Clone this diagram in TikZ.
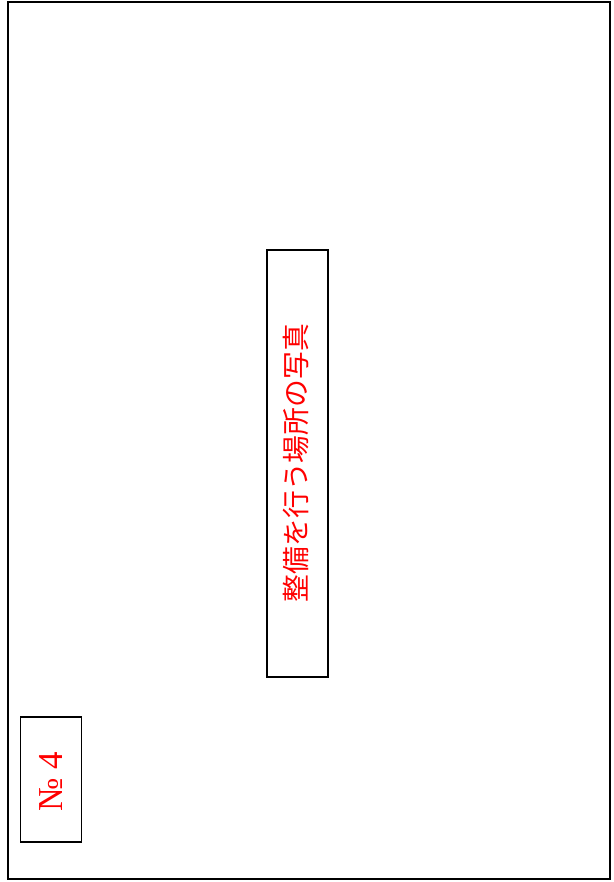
\documentclass[tikz,border=0pt]{standalone}
\usepackage{fontspec}
\setmainfont{Liberation Serif}
\newfontfamily\cjk{Noto Sans CJK JP}
\begin{document}
\begin{tikzpicture}[x=1pt,y=-1pt,
  frame/.style={draw=black,line width=2pt},
  boxline/.style={draw=black,line width=1.8pt},
  redtxt/.style={text=red,rotate=90,inner sep=0pt}]
\useasboundingbox (0,0) rectangle (613,882);
\draw[frame] (7.5,2.5) rectangle (609.5,879);
\node[boxline,minimum width=61pt,minimum height=427pt,inner sep=0pt] (photo) at (297.5,463.5) {};
\node[redtxt,font=\cjk\fontsize{27.8}{32}\selectfont] (caption) at (296,463) {整備を行う場所の写真};
\node[boxline,minimum width=61pt,minimum height=125pt,inner sep=0pt] (nobox) at (51,779.5) {};
\node[redtxt,font=\fontsize{35}{40}\selectfont] (no) at (51,782) {№ 4};
\end{tikzpicture}
\end{document}
